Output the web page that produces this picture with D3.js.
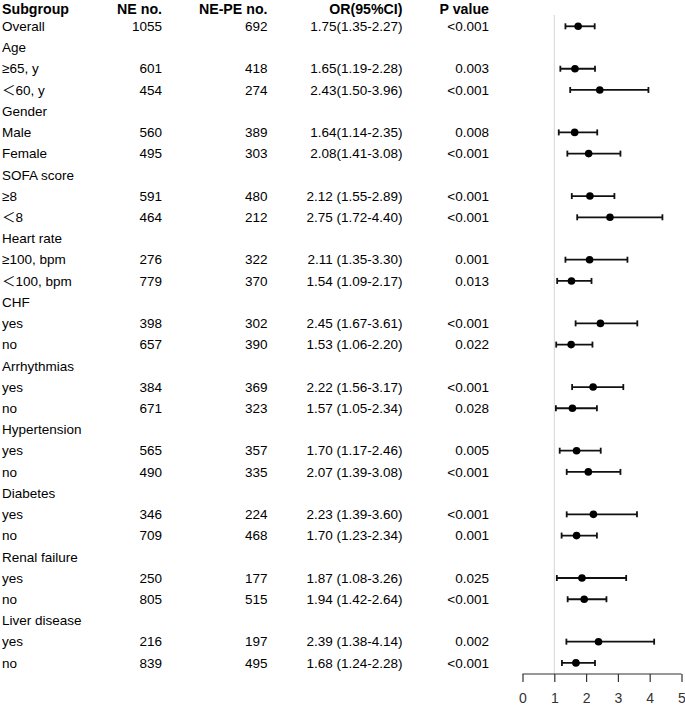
<!DOCTYPE html>
<html>
<head>
<meta charset="utf-8">
<script src="https://cdn.jsdelivr.net/npm/d3@7"></script>
<style>
  html, body { margin: 0; padding: 0; background: #fff; }
  svg { display: block; font-family: "Liberation Sans", Arial, "Noto Sans CJK SC", sans-serif; }
</style>
</head>
<body>
<svg id="chart" width="685" height="706"></svg>
<script>
// ---------- data ----------
const headers = ["Subgroup", "NE no.", "NE-PE no.", "OR(95%CI)", "P value"];
const subgroups = ["Overall", "Age", "≥65, y", "＜60, y", "Gender", "Male", "Female",
  "SOFA score", "≥8", "＜8", "Heart rate", "≥100, bpm", "＜100, bpm",
  "CHF", "yes", "no", "Arrhythmias", "yes", "no", "Hypertension", "yes", "no",
  "Diabetes", "yes", "no", "Renal failure", "yes", "no", "Liver disease", "yes", "no"];
const neNo   = ["1055", "", "601", "454", "", "560", "495", "", "591", "464", "", "276", "779",
  "", "398", "657", "", "384", "671", "", "565", "490", "", "346", "709", "", "250", "805", "", "216", "839"];
const nepeNo = ["692", "", "418", "274", "", "389", "303", "", "480", "212", "", "322", "370",
  "", "302", "390", "", "369", "323", "", "357", "335", "", "224", "468", "", "177", "515", "", "197", "495"];
const orLabels = ["1.75(1.35-2.27)", "", "1.65(1.19-2.28)", "2.43(1.50-3.96)", "", "1.64(1.14-2.35)", "2.08(1.41-3.08)",
  "", "2.12 (1.55-2.89)", "2.75 (1.72-4.40)", "", "2.11 (1.35-3.30)", "1.54 (1.09-2.17)",
  "", "2.45 (1.67-3.61)", "1.53 (1.06-2.20)", "", "2.22 (1.56-3.17)", "1.57 (1.05-2.34)",
  "", "1.70 (1.17-2.46)", "2.07 (1.39-3.08)", "", "2.23 (1.39-3.60)", "1.70 (1.23-2.34)",
  "", "1.87 (1.08-3.26)", "1.94 (1.42-2.64)", "", "2.39 (1.38-4.14)", "1.68 (1.24-2.28)"];
const pValues = ["<0.001", "", "0.003", "<0.001", "", "0.008", "<0.001", "", "<0.001", "<0.001", "",
  "0.001", "0.013", "", "<0.001", "0.022", "", "<0.001", "0.028", "", "0.005", "<0.001", "",
  "<0.001", "0.001", "", "0.025", "<0.001", "", "0.002", "<0.001"];
const orValue = [1.75, null, 1.65, 2.43, null, 1.64, 2.08, null, 2.12, 2.75, null, 2.11, 1.54,
  null, 2.45, 1.53, null, 2.22, 1.57, null, 1.70, 2.07, null, 2.23, 1.70, null, 1.87, 1.94, null, 2.39, 1.68];
const ciLow  = [1.35, null, 1.19, 1.50, null, 1.14, 1.41, null, 1.55, 1.72, null, 1.35, 1.09,
  null, 1.67, 1.06, null, 1.56, 1.05, null, 1.17, 1.39, null, 1.39, 1.23, null, 1.08, 1.42, null, 1.38, 1.24];
const ciHigh = [2.27, null, 2.28, 3.96, null, 2.35, 3.08, null, 2.89, 4.40, null, 3.30, 2.17,
  null, 3.61, 2.20, null, 3.17, 2.34, null, 2.46, 3.08, null, 3.60, 2.34, null, 3.26, 2.64, null, 4.14, 2.28];
const xTicks = [0, 1, 2, 3, 4, 5];

// ---------- layout ----------
const svg = d3.select("#chart");
const x = d3.scaleLinear().domain([0, 5]).range([522.5, 681.5]);
const y = d3.scaleLinear().domain([0, subgroups.length - 1]).range([26.3, 26.3 + 21.22 * (subgroups.length - 1)]);
const headerBaseline = 13.5;
const axisY = 674;

const cols = [
  { data: subgroups, x: 2, anchor: "start" },
  { data: neNo, x: 162, anchor: "end" },
  { data: nepeNo, x: 267.5, anchor: "end" },
  { data: orLabels, x: 402.5, anchor: "end" },
  { data: pValues, x: 489, anchor: "end" }
];

// headers
cols.forEach((c, i) => {
  svg.append("text")
    .attr("x", c.x).attr("y", headerBaseline)
    .attr("text-anchor", c.anchor)
    .attr("font-size", "14.2px").attr("font-weight", "bold")
    .attr("fill", "#000")
    .text(headers[i]);
});

// body text
cols.forEach(c => {
  svg.append("g").selectAll("text").data(c.data).join("text")
    .attr("x", c.x).attr("y", (d, i) => y(i)).attr("dy", "0.35em")
    .attr("text-anchor", c.anchor)
    .attr("font-size", "13.5px")
    .attr("fill", "#000")
    .text(d => d);
});

// reference line at OR = 1
svg.append("line")
  .attr("x1", x(1)).attr("x2", x(1))
  .attr("y1", 15).attr("y2", axisY)
  .attr("stroke", "#d4d4d4").attr("stroke-width", 1);

// forest marks
const idx = d3.range(subgroups.length).filter(i => orValue[i] !== null);
const g = svg.append("g");
g.selectAll("line.ci").data(idx).join("line")
  .attr("class", "ci")
  .attr("x1", i => x(ciLow[i])).attr("x2", i => x(ciHigh[i]))
  .attr("y1", i => y(i)).attr("y2", i => y(i))
  .attr("stroke", "#111").attr("stroke-width", 1.8);
g.selectAll("line.capl").data(idx).join("line")
  .attr("class", "capl")
  .attr("x1", i => x(ciLow[i])).attr("x2", i => x(ciLow[i]))
  .attr("y1", i => y(i) - 3).attr("y2", i => y(i) + 3)
  .attr("stroke", "#111").attr("stroke-width", 1.8);
g.selectAll("line.caph").data(idx).join("line")
  .attr("class", "caph")
  .attr("x1", i => x(ciHigh[i])).attr("x2", i => x(ciHigh[i]))
  .attr("y1", i => y(i) - 3).attr("y2", i => y(i) + 3)
  .attr("stroke", "#111").attr("stroke-width", 1.8);
g.selectAll("circle").data(idx).join("circle")
  .attr("cx", i => x(orValue[i])).attr("cy", i => y(i))
  .attr("r", 3.8).attr("fill", "#000");

// x axis
const axis = d3.axisBottom(x).tickValues(xTicks).tickSize(8).tickPadding(11).tickFormat(d3.format("d"));
const ag = svg.append("g").attr("transform", `translate(0,${axisY})`).call(axis);
ag.select(".domain").attr("stroke", "#333").attr("stroke-width", 1.2).attr("d", `M${x(0)},0H${x(5)}`);
ag.selectAll(".tick line").attr("stroke", "#333").attr("stroke-width", 1.2);
ag.selectAll(".tick text").attr("font-size", "14px").attr("fill", "#333")
  .attr("font-family", "'Liberation Sans', Arial, sans-serif");
</script>
</body>
</html>
